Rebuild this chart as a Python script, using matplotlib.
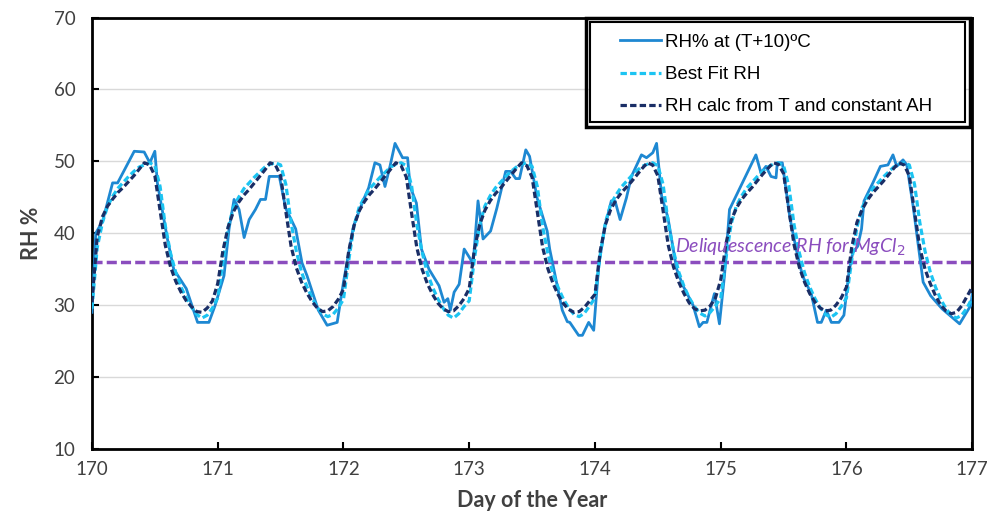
import numpy as np
import matplotlib.pyplot as plt
from matplotlib.patches import Rectangle

# measured RH at (T+10) C, irregular sample times (day of year)
meas_day = [170.00, 170.03, 170.085, 170.164, 170.204, 170.336, 170.415, 170.46, 170.50, 170.52,
            170.60, 170.65, 170.75, 170.84, 170.93, 170.98, 171.05, 171.09, 171.13, 171.17,
            171.21, 171.25, 171.30, 171.34, 171.38, 171.41, 171.49, 171.54, 171.62, 171.67,
            171.71, 171.80, 171.87, 171.95, 172.00, 172.08, 172.16, 172.20, 172.25, 172.29,
            172.33, 172.37, 172.41, 172.47, 172.51, 172.53, 172.58, 172.62, 172.68, 172.76,
            172.80, 172.83, 172.85, 172.88, 172.92, 172.96, 173.01, 173.03, 173.07, 173.11,
            173.17, 173.22, 173.29, 173.33, 173.37, 173.40, 173.45, 173.48, 173.54, 173.62,
            173.64, 173.74, 173.78, 173.80, 173.87, 173.90, 173.95, 173.99, 174.03, 174.08,
            174.13, 174.16, 174.20, 174.25, 174.29, 174.37, 174.41, 174.46, 174.49, 174.53,
            174.58, 174.65, 174.70, 174.78, 174.83, 174.86, 174.89, 174.95, 174.99, 175.03,
            175.07, 175.28, 175.32, 175.36, 175.40, 175.44, 175.45, 175.49, 175.55, 175.60,
            175.65, 175.72, 175.77, 175.80, 175.84, 175.88, 175.94, 175.98, 176.02, 176.05,
            176.09, 176.12, 176.14, 176.21, 176.27, 176.33, 176.37, 176.40, 176.45, 176.48,
            176.53, 176.61, 176.67, 176.76, 176.90, 176.99, 177.00]
meas_rh = [29.0, 40.0, 41.7, 47.0, 47.0, 51.4, 51.3, 49.8, 51.4, 47.0,
           39.2, 35.0, 32.3, 27.6, 27.6, 30.0, 34.1, 40.6, 44.7, 43.3,
           39.4, 41.9, 43.3, 44.7, 44.7, 47.9, 47.9, 43.5, 40.6, 35.9,
           34.1, 29.3, 27.2, 27.6, 33.2, 41.0, 44.7, 46.3, 49.8, 49.5,
           46.5, 49.3, 52.5, 50.5, 50.5, 46.5, 44.2, 37.8, 35.0, 32.7,
           30.4, 30.9, 29.3, 31.8, 32.9, 37.8, 36.4, 35.5, 44.5, 39.2,
           40.3, 43.5, 48.6, 48.6, 47.6, 47.6, 51.6, 50.7, 44.9, 40.3,
           37.8, 29.3, 27.7, 27.6, 25.8, 25.8, 27.6, 26.5, 35.5, 41.0,
           44.5, 44.5, 41.9, 44.9, 47.9, 50.9, 50.5, 51.2, 52.5, 45.2,
           42.2, 35.0, 32.7, 30.0, 27.0, 27.6, 27.6, 31.6, 27.4, 34.1,
           43.3, 50.9, 48.4, 49.3, 47.9, 47.7, 49.8, 49.8, 42.2, 37.8,
           34.1, 31.6, 27.6, 27.6, 29.3, 27.6, 27.6, 28.6, 34.6, 37.3,
           38.2, 40.6, 44.5, 47.0, 49.3, 49.5, 50.9, 49.3, 50.2, 49.5,
           43.8, 33.2, 31.3, 29.5, 27.4, 30.0, 31.5]

# hourly modelled series, day 170 00:00 to day 177 00:00
hours = 170 + np.arange(7 * 24 + 1) / 24.0
fit_rh = [29.5, 38.0, 41.5, 43.8, 45.2, 46.3, 47.1, 47.9, 48.6, 49.2, 49.5, 49.8, 49.4, 46.5, 41.0, 37.2, 34.5, 32.5, 31.0, 29.7, 28.7, 28.2, 28.6, 29.6,
          31.0, 36.0, 40.8, 43.6, 45.0, 46.2, 47.0, 47.8, 48.5, 49.2, 49.6, 49.8, 49.5, 46.8, 41.5, 37.5, 34.6, 32.6, 31.0, 29.7, 28.8, 28.4, 28.7, 29.6,
          30.8, 36.2, 41.0, 43.6, 45.0, 46.2, 47.0, 47.8, 48.5, 49.2, 49.6, 49.8, 49.4, 46.6, 41.2, 37.4, 34.5, 32.5, 30.9, 29.6, 28.6, 28.2, 28.8, 29.8,
          30.6, 36.5, 41.2, 43.8, 45.2, 46.3, 47.1, 47.9, 48.6, 49.2, 49.6, 49.8, 49.3, 46.5, 41.0, 37.2, 34.4, 32.4, 30.8, 29.6, 28.7, 28.4, 28.9, 29.9,
          31.0, 37.0, 41.5, 44.0, 45.3, 46.4, 47.2, 48.0, 48.7, 49.3, 49.6, 49.8, 49.4, 46.8, 41.4, 37.5, 34.6, 32.6, 31.0, 29.8, 28.9, 28.5, 29.0, 29.9,
          31.0, 36.5, 41.3, 43.8, 45.2, 46.3, 47.1, 47.9, 48.6, 49.2, 49.6, 49.8, 49.4, 46.6, 41.2, 37.3, 34.5, 32.5, 30.9, 29.6, 28.7, 28.3, 28.8, 29.8,
          31.0, 36.2, 40.8, 43.6, 45.0, 46.2, 47.0, 47.8, 48.5, 49.2, 49.6, 49.8, 49.5, 46.8, 41.5, 37.5, 34.6, 32.5, 30.8, 29.5, 28.6, 28.2, 28.6, 29.6,
          31.0]
calc_rh = [30.4, 39.5, 42.3, 43.8, 44.8, 45.7, 46.4, 47.2, 48.0, 48.9, 49.8, 49.5, 48.0, 43.2, 38.3, 35.3, 33.3, 31.8, 30.6, 29.8, 29.1, 29.0, 29.6, 30.6,
           33.0, 37.6, 40.9, 43.0, 44.3, 45.3, 46.1, 47.0, 47.9, 48.8, 49.8, 49.5, 48.0, 43.0, 38.2, 35.2, 33.2, 31.7, 30.5, 29.6, 29.1, 29.2, 29.8, 30.8,
           32.2, 37.5, 41.0, 43.1, 44.4, 45.4, 46.2, 47.1, 48.0, 48.9, 49.8, 49.4, 47.8, 42.8, 38.0, 35.0, 33.0, 31.5, 30.3, 29.5, 29.1, 29.2, 29.9, 30.9,
           32.3, 37.8, 41.2, 43.2, 44.5, 45.5, 46.3, 47.2, 48.1, 49.0, 49.8, 49.4, 47.8, 42.9, 38.1, 35.1, 33.0, 31.4, 30.2, 29.4, 29.0, 29.1, 29.7, 30.6,
           31.5, 37.5, 41.2, 43.3, 44.6, 45.6, 46.4, 47.2, 48.1, 49.0, 49.8, 49.5, 48.0, 43.1, 38.3, 35.3, 33.2, 31.6, 30.3, 29.5, 29.2, 29.3, 29.9, 31.0,
           33.5, 38.5, 41.8, 43.5, 44.7, 45.6, 46.4, 47.3, 48.2, 49.0, 49.8, 49.6, 48.3, 43.4, 38.4, 35.3, 33.2, 31.6, 30.4, 29.6, 29.2, 29.3, 30.0, 31.0,
           32.5, 38.0, 41.5, 43.3, 44.6, 45.6, 46.4, 47.2, 48.1, 49.0, 49.8, 49.5, 48.0, 43.0, 38.0, 35.0, 33.0, 31.3, 30.0, 29.2, 28.8, 29.0, 29.9, 31.2,
           32.5]

deliq_rh = 36.0

fig = plt.figure(figsize=(9.89, 5.16), dpi=100)
ax = fig.add_axes([0.093, 0.130, 0.890, 0.836])

ax.axhline(deliq_rh, color='#8B4DBE', lw=2.5, ls=(0, (2.9, 1.2)), zorder=2)
l1, = ax.plot(meas_day, meas_rh, color='#1E88D2', lw=2.0, zorder=3, label='RH% at (T+10)ºC')
l2, = ax.plot(hours, fit_rh, color='#1CC4F2', lw=2.3, ls=(0, (2.0, 1.0)), zorder=4, label='Best Fit RH')
l3, = ax.plot(hours, calc_rh, color='#1A2E66', lw=2.3, ls=(0, (2.0, 1.0)), zorder=5,
              label='RH calc from T and constant AH')

ax.text(174.64, 36.6, 'Deliquescence RH for MgCl$_2$', color='#8B4DBE', fontsize=14,
        style='italic', family='Lato', va='bottom', zorder=6)

ax.set_xlim(170, 177)
ax.set_ylim(10, 70)
ax.set_xticks(range(170, 178))
ax.set_yticks(range(10, 71, 10))
ax.grid(axis='y', color='#D9D9D9', lw=1.0)
ax.set_axisbelow(True)
ax.tick_params(direction='in', length=5, width=1.5, labelsize=13.5, labelcolor='#404040')
ax.tick_params(axis='x', pad=9)
ax.tick_params(axis='y', pad=12)
for lab in ax.get_xticklabels() + ax.get_yticklabels():
    lab.set_family('Lato')
for s in ax.spines.values():
    s.set_linewidth(2.0)
    s.set_color('black')

ax.set_xlabel('Day of the Year', fontsize=15.5, fontweight='bold', family='Lato', color='#404040', labelpad=8)
ax.set_ylabel('RH %', fontsize=15.5, fontweight='bold', family='Lato', color='#404040', labelpad=8)

# legend with a double box around it
leg = ax.legend(handles=[l1, l2, l3], loc='upper left', bbox_to_anchor=(0.600, 0.962),
                frameon=False, borderpad=0, borderaxespad=0, handlelength=2.2,
                handletextpad=0.2, labelspacing=0.8, prop={'family': 'Liberation Sans', 'size': 13.5})
ax.add_patch(Rectangle((0.566, 0.758), 0.426, 0.232, transform=ax.transAxes, fill=True,
                       facecolor='white', edgecolor='black', lw=1.5, zorder=7))
ax.add_patch(Rectangle((0.561, 0.746), 0.437, 0.252, transform=ax.transAxes, fill=False,
                       edgecolor='black', lw=2.5, zorder=7, clip_on=False))
leg.set_zorder(8)

fig.savefig('out.png', dpi=100)
